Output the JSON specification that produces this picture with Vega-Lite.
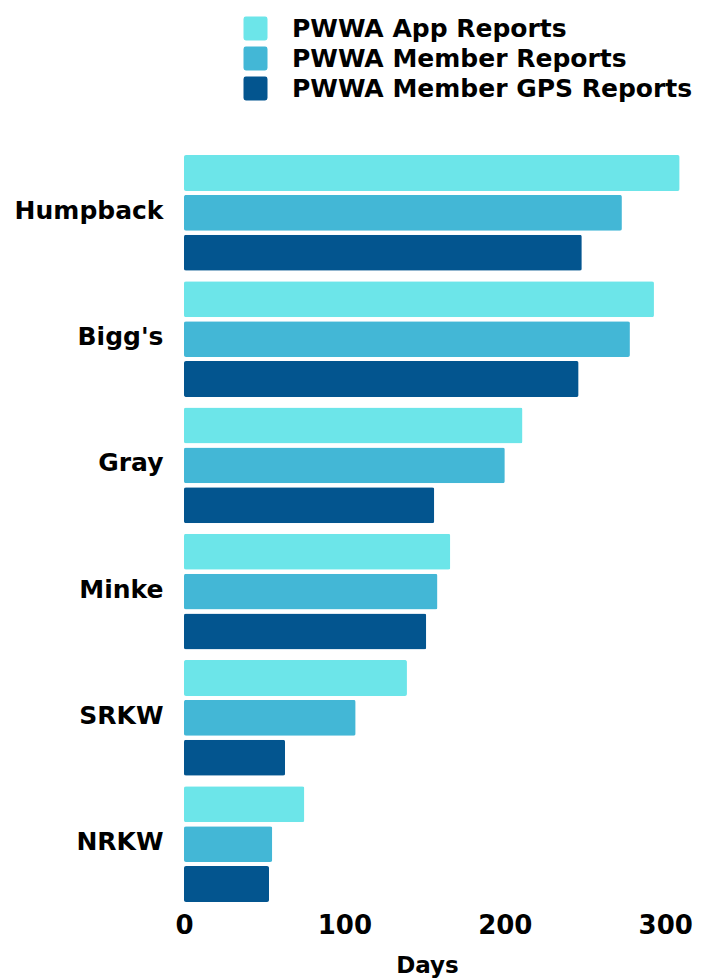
{
  "$schema": "https://vega.github.io/schema/vega-lite/v6.json",
  "autosize": {"type": "none"},
  "padding": {"left": 184, "top": 155, "right": 40, "bottom": 78},
  "width": 486,
  "height": 747,
  "background": "white",
  "data": {
    "values": [
      {"species": "Humpback", "series": "PWWA App Reports", "days": 309},
      {"species": "Humpback", "series": "PWWA Member Reports", "days": 273},
      {"species": "Humpback", "series": "PWWA Member GPS Reports", "days": 248},
      {"species": "Bigg's\u2002", "series": "PWWA App Reports", "days": 293},
      {"species": "Bigg's\u2002", "series": "PWWA Member Reports", "days": 278},
      {"species": "Bigg's\u2002", "series": "PWWA Member GPS Reports", "days": 246},
      {"species": "Gray", "series": "PWWA App Reports", "days": 211},
      {"species": "Gray", "series": "PWWA Member Reports", "days": 200},
      {"species": "Gray", "series": "PWWA Member GPS Reports", "days": 156},
      {"species": "Minke", "series": "PWWA App Reports", "days": 166},
      {"species": "Minke", "series": "PWWA Member Reports", "days": 158},
      {"species": "Minke", "series": "PWWA Member GPS Reports", "days": 151},
      {"species": "SRKW", "series": "PWWA App Reports", "days": 139},
      {"species": "SRKW", "series": "PWWA Member Reports", "days": 107},
      {"species": "SRKW", "series": "PWWA Member GPS Reports", "days": 63},
      {"species": "NRKW", "series": "PWWA App Reports", "days": 75},
      {"species": "NRKW", "series": "PWWA Member Reports", "days": 55},
      {"species": "NRKW", "series": "PWWA Member GPS Reports", "days": 53}
    ]
  },
  "mark": {"type": "bar", "cornerRadius": 2},
  "encoding": {
    "y": {
      "field": "species",
      "type": "nominal",
      "sort": null,
      "scale": {"paddingInner": 0.083, "paddingOuter": 0},
      "axis": {
        "title": null,
        "domain": false,
        "ticks": false,
        "labelFont": "DejaVu Sans",
        "labelFontWeight": "bold",
        "labelFontSize": 25,
        "labelColor": "black",
        "labelPadding": 21,
        "labelOffset": -2
      }
    },
    "yOffset": {
      "field": "series",
      "type": "nominal",
      "sort": ["PWWA App Reports", "PWWA Member Reports", "PWWA Member GPS Reports"],
      "scale": {"paddingInner": 0.1, "paddingOuter": 0}
    },
    "x": {
      "field": "days",
      "type": "quantitative",
      "scale": {"domain": [0, 303], "nice": false},
      "axis": {
        "title": "Days",
        "values": [0, 100, 200, 300],
        "grid": false,
        "domain": false,
        "ticks": false,
        "labelFlush": false,
        "labelFont": "DejaVu Sans",
        "labelFontWeight": "bold",
        "labelFontSize": 26,
        "labelColor": "black",
        "labelPadding": 10,
        "titleFont": "DejaVu Sans",
        "titleFontWeight": "bold",
        "titleFontSize": 23,
        "titleColor": "black",
        "titlePadding": 16
      }
    },
    "color": {
      "field": "series",
      "type": "nominal",
      "sort": ["PWWA App Reports", "PWWA Member Reports", "PWWA Member GPS Reports"],
      "scale": {
        "domain": ["PWWA App Reports", "PWWA Member Reports", "PWWA Member GPS Reports"],
        "range": ["#6CE5E9", "#43B7D6", "#03558F"]
      },
      "legend": {
        "title": null,
        "orient": "none",
        "legendX": 59,
        "legendY": -139,
        "symbolType": "M-0.8,-1H0.8Q1,-1,1,-0.8V0.8Q1,1,0.8,1H-0.8Q-1,1,-1,0.8V-0.8Q-1,-1,-0.8,-1Z",
        "symbolSize": 576,
        "symbolStrokeWidth": 0,
        "symbolOpacity": 1,
        "labelFont": "DejaVu Sans",
        "labelFontWeight": "bold",
        "labelFontSize": 25,
        "labelColor": "black",
        "labelOffset": 24,
        "labelLimit": 500,
        "rowPadding": 4
      }
    }
  },
  "config": {"view": {"stroke": null}}
}
